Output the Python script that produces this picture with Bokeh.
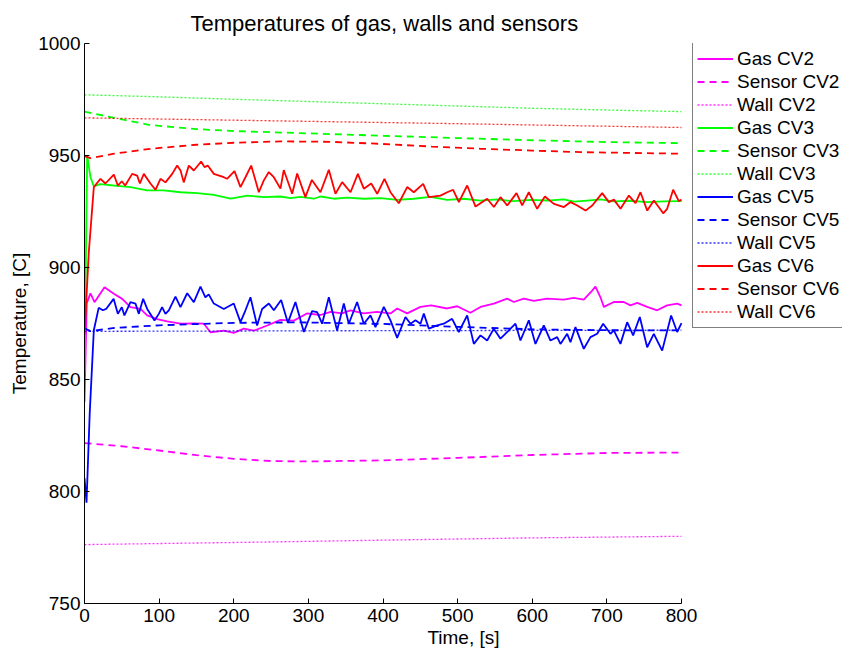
from bokeh.plotting import figure
from bokeh.models import Range1d, Legend, LegendItem, FixedTicker, Title
from bokeh.embed import file_html
from bokeh.resources import INLINE

FONT = "Liberation Sans"

# ---------------- data ----------------
gas_cv2_t = [0, 3, 8, 13.4, 26.8, 39.3, 50.5, 61.6, 75, 84, 97.3, 110.8, 128.6, 146.5, 160, 168.8, 186.7, 200, 213.5, 227,
             244.8, 262.6, 280.5, 298, 316, 329.8, 345, 356.5, 374.3, 392, 410, 419, 432.4, 450.2, 464.5, 486, 499.4, 517.2,
             530.6, 548.5, 566.4, 575.3, 588.7, 602, 620, 642.3, 655.7, 669, 680.3, 684.7, 691.4, 695.9, 709.3, 722.6,
             731.6, 740.6, 754, 767.4, 780.7, 794.2, 800]
gas_cv2_T = [840, 884, 888.5, 884.5, 891.2, 888.3, 886, 882.3, 881.5, 878.6, 877, 876, 874.9, 875, 874.9, 871.1, 871.8, 870.8,
             872.7, 871.8, 874.1, 876.6, 876.3, 879.5, 878.8, 880.2, 879.5, 880.9, 879.5, 880.2, 879.5, 881.7, 879.5, 882.4,
             883.1, 881.7, 882.7, 879.8, 882.4, 883.9, 886.1, 884.6, 886.1, 885.1, 886.1, 885.7, 886.4, 885.7, 889.7, 891.5,
             886.7, 882.4, 884.6, 884.6, 883.1, 884.2, 882.4, 880.9, 883.1, 883.9, 883.1]

sensor_cv2_t = [0, 50, 100, 150, 200, 250, 300, 400, 500, 600, 700, 800]
sensor_cv2_T = [821.6, 820.2, 818.3, 816.2, 814.6, 813.6, 813.4, 813.9, 815, 816.3, 817.2, 817.4]

wall_cv2_t = [0, 236, 423, 600, 800]
wall_cv2_T = [776.3, 777.4, 778.4, 779.3, 780.0]

gas_cv3_t = [0, 3.6, 8, 12.5, 21, 39, 61.6, 84, 106.3, 128.6, 151, 173.3, 195.6, 218, 240.3, 262.6, 276, 289.4, 307.3,
             316.2, 334.1, 352, 374.3, 396.6, 419, 441.3, 463.6, 486, 508.3, 530.6, 553, 575.3, 597.6, 620, 642.3, 655.7,
             673.6, 691.4, 709.3, 731.6, 754, 776.3, 800]
gas_cv3_T = [853, 950, 940.3, 936.2, 937.2, 936.6, 935.9, 934.4, 934.4, 933.6, 933.2, 932.4, 930.7, 932.1, 931.4, 931.7,
             931, 931.5, 930.7, 931.7, 930.7, 931.2, 930.7, 931, 930.2, 930.7, 931.5, 930.2, 930.7, 929.9, 930.4, 929.6,
             930.2, 929.9, 930.4, 929.4, 929.9, 930.4, 929.5, 929.8, 929.2, 929.5, 929.6]

sensor_cv3_t = [0, 40, 88, 150, 200, 289, 400, 500, 600, 700, 800]
sensor_cv3_T = [969.6, 966.8, 963.6, 961.8, 960.9, 960, 958.8, 957.8, 956.8, 956, 955.5]

wall_cv3_t = [0, 100, 200, 300, 400, 500, 600, 700, 800]
wall_cv3_T = [977.1, 976.2, 975.1, 974.1, 973.1, 972.1, 971.1, 970.3, 969.6]

gas_cv5_t = [0, 2.7, 7, 12.5, 19, 24.6, 29, 39, 44.7, 50, 53.5, 61.6, 68.3, 72.8, 78.6, 84, 93.8, 99.6, 104, 108.5, 113,
             121.9, 128.6, 137.6, 146.5, 155.4, 162, 166.5, 173.3, 186.7, 200, 209, 215.7, 222.4, 231.3, 238, 247, 253.7,
             263.5, 272.5, 282.7, 293.9, 305, 311.7, 318.4, 327.4, 338.5, 347.5, 354.2, 365.3, 374.3, 383.2, 389.9, 401.1,
             410, 419, 430.1, 436.8, 443.5, 450.2, 454.7, 461.4, 472.6, 481.5, 492.6, 501.6, 512.8, 521.7, 530.6, 539.6,
             548.5, 557.4, 577.5, 584.2, 595.4, 604.3, 615.5, 624.4, 633.4, 637.8, 646.8, 651.2, 657.9, 669.1, 678, 687,
             695, 704.8, 709.3, 718.2, 727.2, 735.2, 744.1, 754, 762.9, 774.1, 786.1, 794.2, 800]
gas_cv5_T = [806, 795, 835, 872, 882, 880.9, 881.5, 886, 879.3, 882.3, 878.6, 884.5, 883.9, 879.3, 886, 881.5, 876.3, 879.3,
             882.3, 879.3, 880.9, 887, 882.3, 888.5, 884.5, 891.5, 886.7, 888, 883.9, 881.5, 883.9, 875.6, 880.9, 886.7,
             874.1, 881.5, 883.9, 880.9, 885.5, 875.3, 884.6, 871.2, 880.5, 880.1, 874.9, 886.7, 871.9, 883.9, 874.9,
             884.6, 874.9, 878.6, 873.4, 882.4, 876.4, 868.6, 877.9, 874.9, 876.4, 874.9, 879.4, 872.7, 874.2, 874.9,
             877.1, 871.2, 878.6, 865.9, 869.7, 867.4, 872.7, 868.2, 874.9, 867.4, 876.4, 865.9, 874.2, 867.4, 868.9,
             865.9, 870.4, 866.7, 873.4, 863.7, 868.9, 870.4, 874.9, 870.4, 871.9, 865.9, 875.6, 869.7, 877.9, 864.4,
             870.4, 862.9, 878.6, 871.2, 875.2]

sensor_cv5_t = [0, 8, 40, 100, 200, 290, 400, 500, 600, 700, 800]
sensor_cv5_T = [872.8, 871.6, 873, 874.2, 875.3, 875.5, 874.8, 873.5, 872.4, 872, 871.9]

wall_cv5_t = [0, 400, 800]
wall_cv5_T = [871.5, 871.8, 872]

gas_cv6_t = [0, 5.8, 12.5, 21.4, 28, 39.3, 44.7, 50, 54.5, 63.9, 70.6, 74.2, 79.5, 88.4, 95.1, 101.8, 108.5, 117.5, 124.2,
             128.7, 133, 139.8, 146.5, 156.3, 160.8, 165.2, 173.3, 186.7, 191, 201, 209, 215.7, 223.4, 233.6, 240.3, 247,
             253.7, 262.6, 267, 278.3, 285, 296, 304.7, 316.2, 327.4, 336.3, 345.3, 356.5, 366.3, 374.3, 384.2, 392.2,
             402, 410, 421.2, 432.4, 441.3, 453.8, 461.4, 477, 486, 494, 501.7, 512.8, 524, 539.6, 548.6, 557.5, 566.5,
             578.9, 586.5, 595.4, 606.6, 616.9, 629, 642.4, 651.3, 660.3, 671.4, 680.4, 693.7, 702.7, 709.4, 718.3,
             729.5, 738.4, 745, 754.1, 763, 775.5, 780.8, 788.8, 796.4, 800]
gas_cv6_T = [870, 907, 935.9, 939.6, 937.5, 941.5, 936.6, 938.5, 936.6, 941.8, 941, 937.5, 941.8, 937.5, 934.7, 939.6, 938,
             941.8, 945.5, 943.3, 938, 945.5, 943.3, 947.3, 944.8, 945.5, 941.8, 940.3, 939.6, 943, 935.9, 940.3, 945.5,
             933.6, 938.9, 942.6, 940.3, 935.2, 943.5, 932.9, 942, 931.4, 939.1, 933.6, 943.6, 932.9, 938.1, 933.6, 941.8,
             935.2, 937.5, 932.9, 939.6, 933.6, 928.7, 935.9, 933.6, 937.3, 931.4, 932.1, 933.6, 934.7, 929.2, 936.6,
             927.2, 930.7, 927, 931.4, 927.7, 933.2, 927.7, 933.6, 926.2, 931.7, 928.4, 927, 929.2, 927.7, 925.4, 927.7,
             933.2, 929.2, 930.3, 926.2, 932.1, 928.7, 933.6, 925.4, 929.9, 924.2, 926.2, 934.7, 929.6, 930.3]

sensor_cv6_t = [0, 8, 40, 88, 150, 200, 263, 330, 397, 465, 531, 600, 665, 800]
sensor_cv6_T = [949.7, 948.8, 950.8, 953, 954.8, 955.7, 956.3, 956.1, 955.2, 954, 953, 952.2, 951.5, 950.8]

wall_cv6_t = [0, 289, 500, 800]
wall_cv6_T = [966.8, 965.3, 964.2, 962.5]

x_ticks = [0, 100, 200, 300, 400, 500, 600, 700, 800]
y_ticks = [750, 800, 850, 900, 950, 1000]

series = [
    ("Gas CV2", gas_cv2_t, gas_cv2_T, "#ff00ff", "solid"),
    ("Sensor CV2", sensor_cv2_t, sensor_cv2_T, "#ff00ff", "dashed"),
    ("Wall CV2", wall_cv2_t, wall_cv2_T, "#ff00ff", "dotted"),
    ("Gas CV3", gas_cv3_t, gas_cv3_T, "#00ff00", "solid"),
    ("Sensor CV3", sensor_cv3_t, sensor_cv3_T, "#00ff00", "dashed"),
    ("Wall CV3", wall_cv3_t, wall_cv3_T, "#00ff00", "dotted"),
    ("Gas CV5", gas_cv5_t, gas_cv5_T, "#0000ff", "solid"),
    ("Sensor CV5", sensor_cv5_t, sensor_cv5_T, "#0000ff", "dashed"),
    ("Wall CV5", wall_cv5_t, wall_cv5_T, "#0000ff", "dotted"),
    ("Gas CV6", gas_cv6_t, gas_cv6_T, "#ff0000", "solid"),
    ("Sensor CV6", sensor_cv6_t, sensor_cv6_T, "#ff0000", "dashed"),
    ("Wall CV6", wall_cv6_t, wall_cv6_T, "#ff0000", "dotted"),
]

# ---------------- layout ----------------
W, H = 842, 653
LEFT, TOP, BOTTOM = 84, 43, 50
AXES_W = 597                      # width of the drawn axes (0..800)
FRAME_W = W - LEFT                # frame runs to the window edge so the legend can sit beside the axes
x_end = 800 * FRAME_W / AXES_W

p = figure(width=W, height=H, output_backend="svg", toolbar_location=None,
           x_range=Range1d(0, x_end), y_range=Range1d(750, 1000),
           min_border_left=LEFT, min_border_right=0, min_border_top=TOP, min_border_bottom=BOTTOM)
p.title = Title(text="Temperatures of gas, walls and sensors", align="left", offset=106,
                text_font=FONT, text_font_size="22px", text_font_style="normal",
                text_color="black", standoff=16)
p.outline_line_color = None
p.grid.visible = False
p.background_fill_color = "white"
p.border_fill_color = "white"

for ax in (p.xaxis[0], p.yaxis[0]):
    ax.major_tick_in = 5
    ax.major_tick_out = 0
    ax.minor_tick_line_color = None
    ax.axis_line_color = "black"
    ax.major_tick_line_color = "black"
    ax.major_label_text_font = FONT
    ax.major_label_text_font_size = "19px"
    ax.major_label_text_color = "black"
    ax.axis_label_text_font = FONT
    ax.axis_label_text_font_size = "19px"
    ax.axis_label_text_font_style = "normal"
    ax.axis_label_text_color = "black"

p.xaxis.ticker = FixedTicker(ticks=x_ticks)
p.yaxis.ticker = FixedTicker(ticks=y_ticks)
p.xaxis.bounds = (0, 800)
p.xaxis.axis_label = "Time, [s]"
p.xaxis.axis_label_align = "center"
p.yaxis.axis_label = "Temperature, [C]"
p.xaxis.major_label_standoff = 5
p.xaxis.axis_label_standoff = 2
p.yaxis.major_label_standoff = 4
p.yaxis.axis_label_standoff = 5

items = []
for name, t, T, color, style in series:
    if style == "solid":
        r = p.line(t, T, line_color=color, line_width=1.8)
    elif style == "dashed":
        r = p.line(t, T, line_color=color, line_width=1.8, line_dash="7 5")
    else:
        r = p.line(t, T, line_color=color, line_width=1.3, line_dash="2 2", line_alpha=0.8)
    items.append(LegendItem(label=name, renderers=[r]))

legend = Legend(items=items, location=(608, 275), orientation="vertical",
                border_line_color="black", border_line_width=1,
                background_fill_color="white", background_fill_alpha=1.0,
                label_text_font=FONT, label_text_font_size="19px", label_text_color="black",
                glyph_width=36, glyph_height=23, label_height=23, spacing=0,
                padding=4, margin=0, label_standoff=4)
p.add_layout(legend)

open("out.html", "w").write(file_html(p, INLINE))
